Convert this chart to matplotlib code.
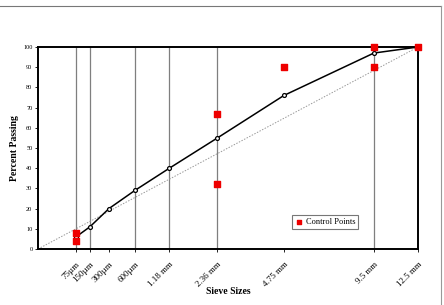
import matplotlib
matplotlib.use("Agg")
import matplotlib.pyplot as plt
import numpy as np
from matplotlib.lines import Line2D

plt.rcParams['font.family'] = ['Liberation Serif', 'DejaVu Serif']

sieve_labels = ["75µm", "150µm", "300µm", "600µm", "1.18 mm", "2.36 mm", "4.75 mm", "9.5 mm", "12.5 mm"]
sieve_mm = [0.075, 0.15, 0.3, 0.6, 1.18, 2.36, 4.75, 9.5, 12.5]
percent_passing = [6, 11, 20, 29, 40, 55, 76, 97, 100]
grid_sieves = [0.075, 0.15, 0.6, 1.18, 2.36, 9.5]
ctrl_mm = [0.075, 0.075, 2.36, 2.36, 4.75, 9.5, 9.5, 12.5]
ctrl_pct = [4, 8, 32, 67, 90, 90, 100, 100]
max_density_mm = [0, 12.5]
max_density_pct = [0, 100]

p = 0.45
def tx(v):
    return np.power(np.asarray(v, dtype=float), p)

fig = plt.figure(figsize=(4.44, 3.05), dpi=100)
ax = fig.add_axes([38/444, 1 - 249/305, 380/444, 202/305])

for s in grid_sieves:
    ax.axvline(tx(s), color='#7f7f7f', lw=0.9, zorder=1)

ax.plot(tx(max_density_mm), max_density_pct, color='#999999', lw=0.7, ls=(0, (1.5, 1.5)), zorder=2)
ax.plot(tx(sieve_mm), percent_passing, color='black', lw=1.1, marker='o', ms=2.8,
        mfc='white', mec='black', mew=0.9, zorder=3)
ax.scatter(tx(ctrl_mm), ctrl_pct, marker='s', s=13, color='#ee0000', zorder=4, clip_on=False,
           label='Control Points')

ax.set_xlim(0, tx(12.5))
ax.set_ylim(0, 100)
ax.set_yticks(range(0, 101, 10))
ax.set_xticks(tx(sieve_mm))
ax.set_xticklabels(sieve_labels, rotation=45, ha='right', rotation_mode='anchor', fontsize=6.5)
ax.tick_params(axis='y', labelsize=4.5, length=2, width=0.6, pad=2)
ax.tick_params(axis='x', length=2, width=0.6, pad=6)
for sp in ax.spines.values():
    sp.set_linewidth(1.4)

ax.set_ylabel('Percent Passing', fontsize=7, fontweight='bold', labelpad=3)
ax.set_xlabel('Sieve Sizes', fontsize=7, fontweight='bold', labelpad=-1)

leg = ax.legend(loc='center', bbox_to_anchor=((325-38)/380, (249-222)/202), fontsize=6,
                frameon=True, fancybox=False, edgecolor='#555555', handletextpad=0.4,
                borderpad=0.35, handlelength=0.9, markerscale=0.9)
leg.get_frame().set_linewidth(0.8)

fig.add_artist(Line2D([0, 441/444], [1 - 6/305, 1 - 6/305], transform=fig.transFigure, color='#777777', lw=0.8))
fig.add_artist(Line2D([441/444, 441/444], [0, 1 - 6/305], transform=fig.transFigure, color='#999999', lw=0.8))

fig.savefig('out.png', dpi=100)
